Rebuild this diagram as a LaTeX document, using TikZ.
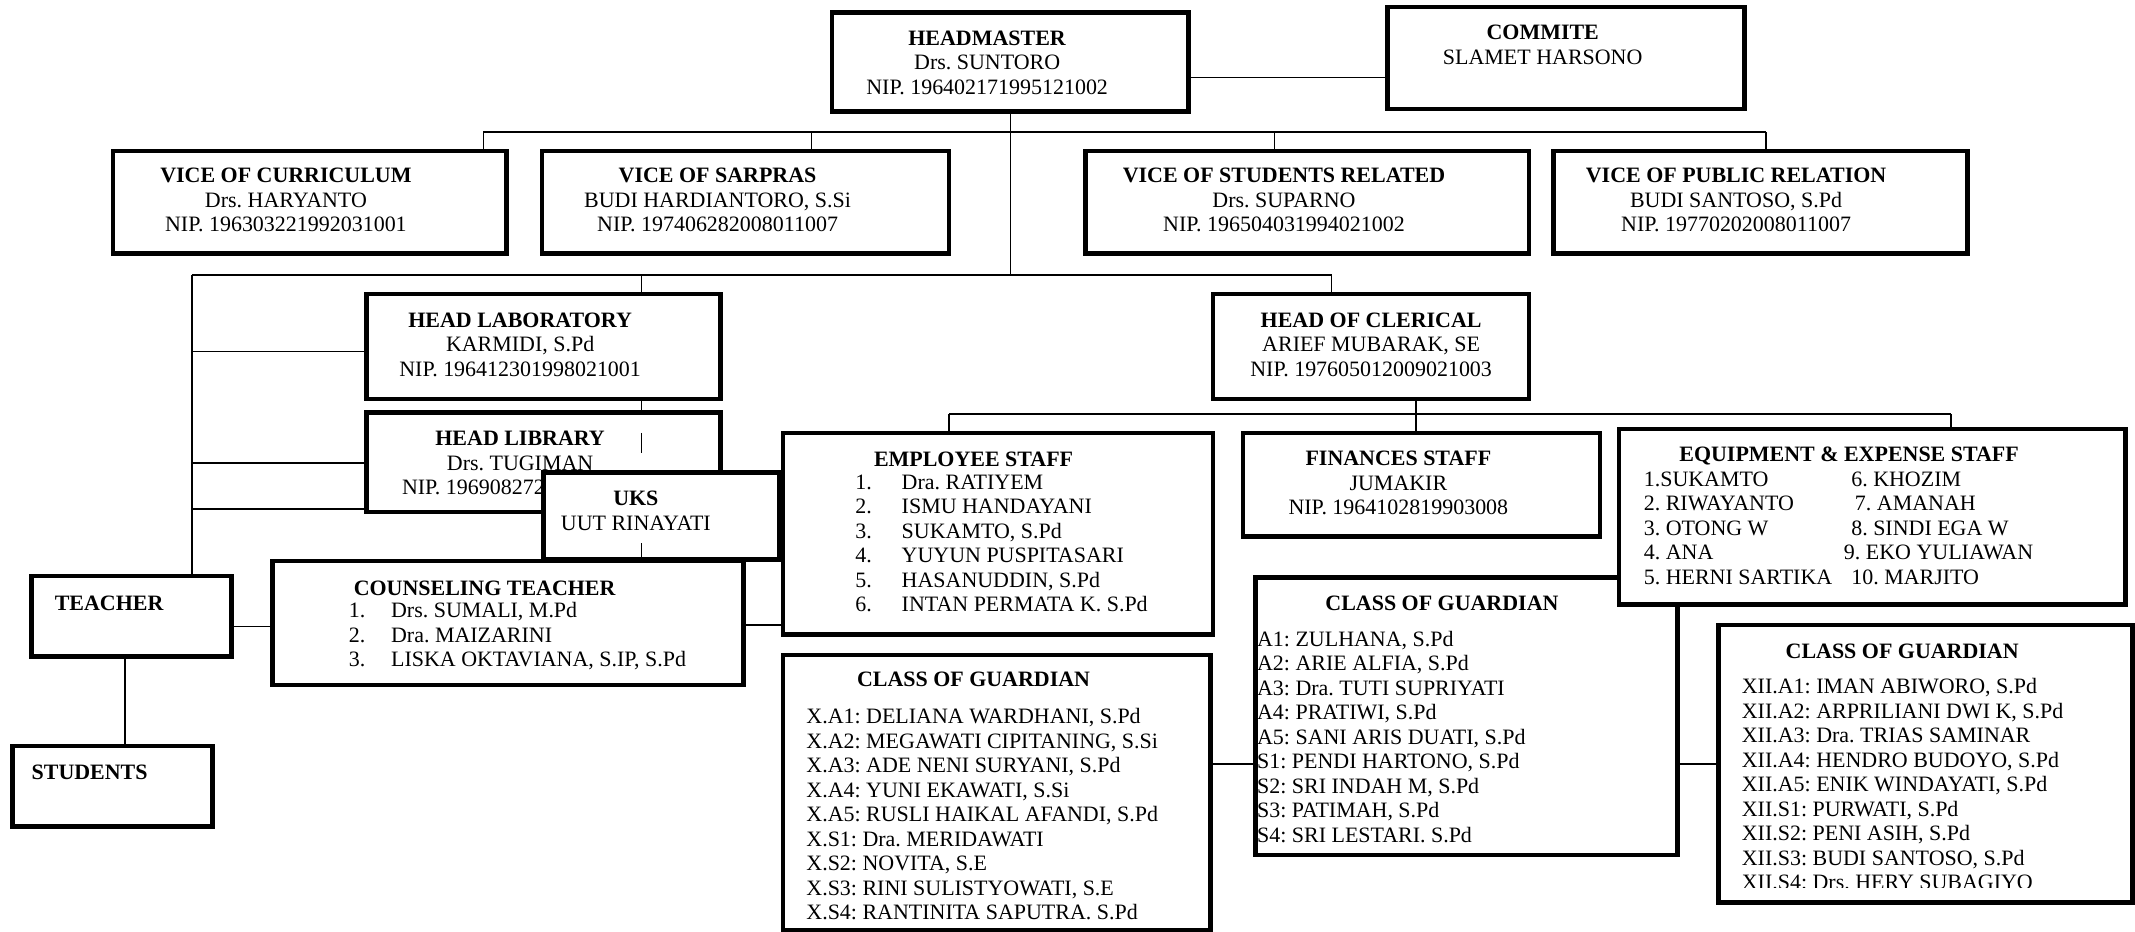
\documentclass[tikz,border=0pt]{standalone}
\usepackage{fontspec}
\setmainfont{Liberation Serif}
\usepackage{tikz}
\usetikzlibrary{fit}
\tikzstyle{box} = [
	draw=black,
	line width=2.6pt,
	fill=white,
	inner sep=0pt
]
\tikzstyle{txt} = [
	inner sep=0pt,
	align=center,
	font=\fontsize{12.5}{13.95}\selectfont
]
\tikzstyle{lst} = [txt, align=left, anchor=west]
\tikzstyle{link} = [line width=0.9pt]
\newcommand{\nr}[2]{\makebox[#1][l]{#2}}
\frenchspacing

\begin{document}
\begin{tikzpicture}[x=0.02723cm, y=-0.02723cm]
    \useasboundingbox (0,0) rectangle (1568,684);
    % top level
    \node[box, fit={(611,9) (873,82)}] (hm) {};
    \node[txt] at (725,46) (hm txt) {\textbf{HEADMASTER}\\Drs. SUNTORO\\NIP. 196402171995121002};
    \node[box, fit={(1019,5) (1281,80)}] (cm) {};
    \node[txt] at (1133,33) (cm txt) {\textbf{COMMITE}\\SLAMET HARSONO};
    % vices
    \node[box, fit={(83,111) (372,186)}] (vcur) {};
    \node[txt] at (210,147) (vcur txt) {\textbf{VICE OF CURRICULUM}\\Drs. HARYANTO\\NIP. 196303221992031001};
    \node[box, fit={(398,111) (697,186)}] (vsar) {};
    \node[txt] at (527,147) (vsar txt) {\textbf{VICE OF SARPRAS}\\BUDI HARDIANTORO, S.Si\\NIP. 197406282008011007};
    \node[box, fit={(797,111) (1123,186)}] (vstu) {};
    \node[txt] at (943,147) (vstu txt) {\textbf{VICE OF STUDENTS RELATED}\\Drs. SUPARNO\\NIP. 196504031994021002};
    \node[box, fit={(1141,111) (1445,186)}] (vpr) {};
    \node[txt] at (1275,147) (vpr txt) {\textbf{VICE OF PUBLIC RELATION}\\BUDI SANTOSO, S.Pd\\NIP. 19770202008011007};
    % left side
    \node[box, fit={(269,216) (529,293)}] (lab) {};
    \node[txt] at (382,253) (lab txt) {\textbf{HEAD LABORATORY}\\KARMIDI, S.Pd\\NIP. 196412301998021001};
    \node[box, fit={(269,303) (529,376)}] (lib) {};
    \node[txt] at (382,331) (lib txt) {\textbf{HEAD LIBRARY}\\Drs. TUGIMAN};
    \node[txt, anchor=west] at (295,358) (lib nip) {NIP. 196908272};
    \node[box, fit={(399,347) (572,411)}] (uks) {};
    \node[txt] at (467,375) (uks txt) {\textbf{UKS}\\UUT RINAYATI};
    \node[box, fit={(23,423) (170,482)}] (teach) {};
    \node[txt, anchor=west] at (40,443) (teach txt) {\textbf{TEACHER}};
    \node[box, fit={(9,548) (156,607)}] (stud) {};
    \node[txt, anchor=west] at (23,567) (stud txt) {\textbf{STUDENTS}};
    \node[box, fit={(200,412) (546,503)}] (couns) {};
    \node[txt] at (356,432) (couns txt) {\textbf{COUNSELING TEACHER}};
    \node[lst] at (256,467.5) (couns lst) {\nr{0.844cm}{1.}Drs. SUMALI, M.Pd\\\nr{0.844cm}{2.}Dra. MAIZARINI\\\nr{0.844cm}{3.}LISKA OKTAVIANA, S.IP, S.Pd};
    % clerical side
    \node[box, fit={(575,318) (891,466)}] (emp) {};
    \node[txt] at (715,337) (emp txt) {\textbf{EMPLOYEE STAFF}};
    \node[lst] at (628,399) (emp lst) {\nr{0.926cm}{1.}Dra. RATIYEM\\\nr{0.926cm}{2.}ISMU HANDAYANI\\\nr{0.926cm}{3.}SUKAMTO, S.Pd\\\nr{0.926cm}{4.}YUYUN PUSPITASARI\\\nr{0.926cm}{5.}HASANUDDIN, S.Pd\\\nr{0.926cm}{6.}INTAN PERMATA K. S.Pd};
    \node[box, fit={(891,216) (1123,293)}] (cler) {};
    \node[txt] at (1007,253) (cler txt) {\textbf{HEAD OF CLERICAL}\\ARIEF MUBARAK, SE\\NIP. 197605012009021003};
    \node[box, fit={(913,318) (1175,394)}] (fin) {};
    \node[txt] at (1027,355) (fin txt) {\textbf{FINANCES STAFF}\\JUMAKIR\\NIP. 1964102819903008};
    \node[box, fit={(922,424) (1232,628)}] (grdM) {};
    \node[txt] at (1059,443) (grdM txt) {\textbf{CLASS OF GUARDIAN}};
    \node[lst] at (923,541) (grdM lst) {A1: ZULHANA, S.Pd\\A2: ARIE ALFIA, S.Pd\\A3: Dra. TUTI SUPRIYATI\\A4: PRATIWI, S.Pd\\A5: SANI ARIS DUATI, S.Pd\\S1: PENDI HARTONO, S.Pd\\S2: SRI INDAH M, S.Pd\\S3: PATIMAH, S.Pd\\S4: SRI LESTARI. S.Pd};
    \node[box, fit={(1189,315) (1561,444)}] (equip) {};
    \node[txt] at (1358,335) (equip txt) {\textbf{EQUIPMENT \& EXPENSE STAFF}};
    \node[lst] at (1207,388) (equip lstA) {1.SUKAMTO\\2. RIWAYANTO\\3. OTONG W\\4. ANA\\5. HERNI SARTIKA};
    \node[lst] at (1354,388) (equip lstB) {\,\,6. KHOZIM\\\,\,\,7. AMANAH\\\,\,8. SINDI EGA W\\9. EKO YULIAWAN\\\,\,10. MARJITO};
    \node[box, fit={(575,481) (889,683)}] (grdX) {};
    \node[txt] at (715,499) (grdX txt) {\textbf{CLASS OF GUARDIAN}};
    \node[lst] at (592,598) (grdX lst) {X.A1: DELIANA WARDHANI, S.Pd\\X.A2: MEGAWATI CIPITANING, S.Si\\X.A3: ADE NENI SURYANI, S.Pd\\X.A4: YUNI EKAWATI, S.Si\\X.A5: RUSLI HAIKAL AFANDI, S.Pd\\X.S1: Dra. MERIDAWATI\\X.S2: NOVITA, S.E\\X.S3: RINI SULISTYOWATI, S.E\\X.S4: RANTINITA SAPUTRA. S.Pd};
    \node[box, fit={(1262,459) (1566,663)}] (grdR) {};
    \node[txt] at (1397,478) (grdR txt) {\textbf{CLASS OF GUARDIAN}};
    \begin{scope}
      \clip (1262,459) rectangle (1566,652);
      \node[lst] at (1279,576) (grdR lst) {XII.A1: IMAN ABIWORO, S.Pd\\XII.A2: ARPRILIANI DWI K, S.Pd\\XII.A3: Dra. TRIAS SAMINAR\\XII.A4: HENDRO BUDOYO, S.Pd\\XII.A5: ENIK WINDAYATI, S.Pd\\XII.S1: PURWATI, S.Pd\\XII.S2: PENI ASIH, S.Pd\\XII.S3: BUDI SANTOSO, S.Pd\\XII.S4: Drs. HERY SUBAGIYO};
    \end{scope}
    % connectors
    \coordinate (hmR) at (873,57);
    \draw[link] (hmR) -- (hmR -| cm.west);
    \coordinate (mid) at (742,202);
    \draw[link] (hm.south) -- (mid);
    \coordinate (t1) at (355,97);
    \coordinate (t2) at (596,97);
    \coordinate (t3) at (936,97);
    \coordinate (t4) at (1297,97);
    \draw[link] (t1) -- (t4);
    \draw[link] (t1) -- (t1 |- vcur.north);
    \draw[link] (t2) -- (t2 |- vsar.north);
    \draw[link] (t3) -- (t3 |- vstu.north);
    \draw[link] (t4) -- (t4 |- vpr.north);
    \coordinate (m1) at (141,202);
    \coordinate (m2) at (471,202);
    \coordinate (m3) at (978,202);
    \draw[link] (m1) -- (m3);
    \draw[link] (m2) -- (m2 |- lab.north);
    \draw[link] (m3) -- (m3 |- cler.north);
    \draw[link] (m1) -- (m1 |- teach.north);
    \coordinate (b1) at (141,258);
    \coordinate (b2) at (141,340);
    \coordinate (b3) at (141,374);
    \draw[link] (b1) -- (b1 -| lab.west);
    \draw[link] (b2) -- (b2 -| lib.west);
    \draw[link] (b3) -- (b3 -| lib.west);
    \draw[link] (m2 |- lab.south) -- (m2 |- lib.north);
    \coordinate (s1) at (471,318);
    \coordinate (s2) at (471,333);
    \draw[link] (s1) -- (s2);
    \coordinate (s3) at (471,399);
    \draw[link] (s3) -- (s3 |- uks.south);
    \coordinate (ts) at (92,482);
    \draw[link] (ts |- teach.south) -- (ts |- stud.north);
    \coordinate (tc) at (170,460);
    \draw[link] (tc -| teach.east) -- (tc -| couns.west);
    \coordinate (ce) at (546,459);
    \draw[link] (ce -| couns.east) -- (ce -| emp.west);
    \coordinate (c1) at (697,304);
    \coordinate (c2) at (1040,304);
    \coordinate (c3) at (1433,304);
    \draw[link] (c2 |- cler.south) -- (c2);
    \draw[link] (c1) -- (c3);
    \draw[link] (c1) -- (c1 |- emp.north);
    \draw[link] (c2) -- (c2 |- fin.north);
    \draw[link] (c3) -- (c3 |- equip.north);
    \coordinate (g1) at (889,561);
    \draw[link] (g1 -| grdX.east) -- (g1 -| grdM.west);
    \coordinate (g2) at (1232,561);
    \draw[link] (g2 -| grdM.east) -- (g2 -| grdR.west);
\end{tikzpicture}
\end{document}
